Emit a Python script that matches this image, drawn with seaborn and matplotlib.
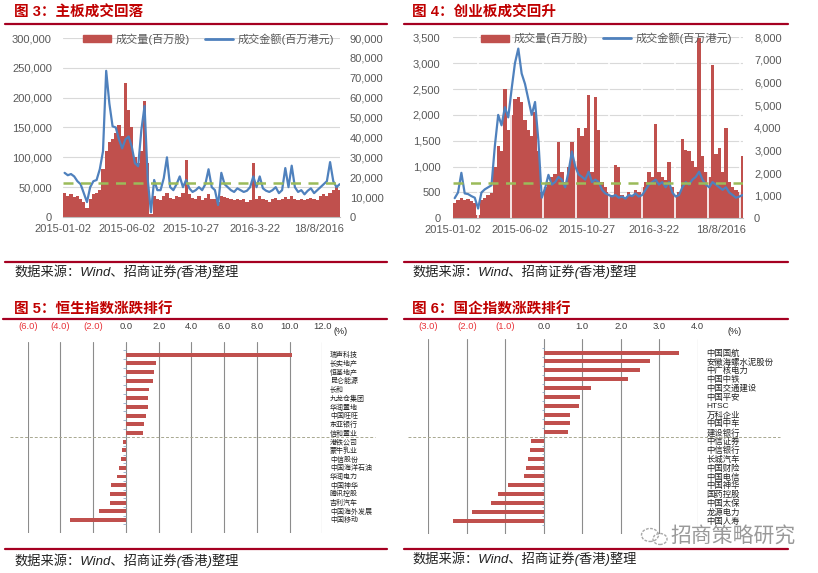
import numpy as np
import matplotlib.pyplot as plt
import seaborn as sns
from matplotlib.lines import Line2D
from matplotlib.patches import Patch, Ellipse
from matplotlib.ticker import FuncFormatter

# --- DATA ---
STEP = 5  # trading days per sample
XMAX = 433
XTICK_LABELS = ["2015-01-02", "2015-06-02", "2015-10-27", "2016-3-22", "18/8/2016"]

# 主板: 成交量(百万股), 成交金额(百万港元)
MAIN_VOL = [40000, 35000, 38000, 33000, 36000, 30000, 25000, 15000, 30000, 38000,
            40000, 45000, 80000, 110000, 125000, 130000, 140000, 155000, 135000, 225000,
            180000, 150000, 100000, 90000, 110000, 195000, 90000, 5000, 35000, 30000,
            28000, 35000, 40000, 32000, 30000, 35000, 33000, 40000, 95000, 38000,
            32000, 30000, 35000, 28000, 32000, 38000, 30000, 30000, 25000, 35000,
            33000, 32000, 30000, 28000, 30000, 28000, 30000, 25000, 28000, 90000,
            30000, 35000, 30000, 28000, 25000, 30000, 32000, 28000, 30000, 33000,
            30000, 35000, 30000, 28000, 30000, 28000, 30000, 32000, 30000, 28000,
            35000, 38000, 35000, 40000, 45000, 50000, 45000]
MAIN_AMT = [22200, 21000, 21600, 20400, 18000, 16500, 12000, 7500, 15000, 18000,
            18600, 24000, 33000, 73500, 57000, 45600, 45000, 39000, 34500, 39000,
            40500, 35400, 27000, 25500, 43800, 55800, 18600, 2400, 18600, 13500,
            13500, 19500, 30000, 15000, 13500, 16500, 20400, 15000, 18600, 14400,
            12600, 13500, 15000, 13500, 16500, 24000, 15000, 13500, 6000, 22200,
            16500, 15000, 13500, 12600, 14400, 13500, 12600, 13200, 15000, 20400,
            15000, 20400, 14400, 13200, 12600, 13500, 15000, 12000, 13500, 24600,
            15000, 25800, 15000, 12600, 13500, 11400, 13200, 14400, 12000, 13500,
            15000, 16500, 18000, 27600, 18000, 15000, 16500]
MAIN_AVG = 17000

# 创业板
GEM_VOL = [300, 350, 400, 350, 380, 330, 300, 60, 350, 400,
           450, 480, 1000, 1400, 1300, 2500, 1700, 2000, 2300, 2350,
           2250, 1900, 1700, 1600, 2050, 1300, 500, 600, 700, 800,
           850, 1480, 900, 700, 1000, 1480, 1100, 1740, 1600, 1750,
           2380, 900, 2350, 1700, 700, 600, 500, 450, 1030, 1000,
           450, 400, 500, 450, 550, 500, 600, 700, 900, 800,
           1830, 900, 800, 750, 1090, 600, 450, 500, 1540, 1320,
           1300, 1100, 1000, 3480, 1200, 900, 800, 2960, 1250, 1350,
           900, 1740, 700, 600, 550, 500, 1200]
GEM_AMT = [890, 1140, 2010, 1100, 1070, 980, 910, 430, 1140, 1280,
           1370, 1460, 3200, 4570, 4110, 4910, 4460, 5710, 6860, 7500,
           6400, 5940, 5260, 4570, 5140, 3430, 910, 1330, 1920, 1490,
           1600, 1830, 1710, 1370, 2060, 2950, 2290, 1940, 1830, 1710,
           2060, 1600, 1710, 1600, 1260, 1100, 1030, 960, 1030, 910,
           960, 870, 1030, 980, 1100, 960, 1030, 1260, 1490, 1600,
           1710, 1490, 1600, 1370, 1600, 1140, 960, 1030, 1370, 1600,
           1490, 1710, 1830, 2060, 1710, 1490, 1370, 1600, 1490, 1370,
           1260, 1370, 1140, 1030, 910, 960, 1030]
GEM_AVG = 1580

HSI_NAMES = ["瑞声科技", "长实地产", "恒基地产", "昆仑能源", "长和", "九龙仓集团", "华润置地",
             "中国旺旺", "东亚银行", "信和置业", "港铁公司", "蒙牛乳业", "中信股份", "中国海洋石油",
             "华润电力", "中国神华", "腾讯控股", "吉利汽车", "中国海外发展", "中国移动"]
HSI_CHG = [10.13, 1.82, 1.73, 1.67, 1.39, 1.38, 1.38, 1.20, 1.08, 1.02,
           -0.16, -0.22, -0.29, -0.41, -0.53, -0.90, -0.98, -0.98, -1.63, -3.43]

HSCEI_NAMES = ["中国国航", "安徽海螺水泥股份", "中广核电力", "中国中铁", "中国交通建设", "中国平安",
               "HTSC", "万科企业", "中国中车", "建设银行", "中信证券", "中信银行", "长城汽车",
               "中国财险", "中国电信", "中国神华", "国药控股", "中国太保", "龙源电力", "中国人寿"]
HSCEI_CHG = [3.52, 2.75, 2.49, 2.19, 1.23, 0.93, 0.92, 0.69, 0.67, 0.64,
             -0.34, -0.37, -0.42, -0.47, -0.52, -0.94, -1.19, -1.36, -1.87, -2.36]

# --- STYLE ---
RED = "#C0504D"
BLUE = "#4F81BD"
GREEN = "#9BBB59"
RULE = "#A50021"
TITLE_RED = "#C00000"
TXT = "#595959"
W, H = 818, 573

sns.set_style("white")
plt.rcParams['font.family'] = ['Liberation Sans', 'Noto Sans CJK SC']

fig = plt.figure(figsize=(W / 100, H / 100), dpi=100)


def fx(px):
    return px / W


def fy(py):
    return 1 - py / H


def axes_px(x0, y0, x1, y1):
    return fig.add_axes([fx(x0), fy(y1), (x1 - x0) / W, (y1 - y0) / H])


def rule(x0, x1, y):
    fig.add_artist(Line2D([fx(x0), fx(x1)], [fy(y), fy(y)], color=RULE, lw=1.6,
                          transform=fig.transFigure))


def header(x, y, text):
    fig.text(fx(x), fy(y), text, color=TITLE_RED, fontsize=10.5, fontweight='bold',
             va='center', ha='left')


def source(x, y):
    fig.text(fx(x), fy(y), "数据来源：Wind、招商证券(香港)整理", fontsize=9.5,
             style='italic', color='#222222', va='center', ha='left')


comma = FuncFormatter(lambda v, p: f"{v:,.0f}")


def volume_chart(box, vol, amt, avg, vmax, vstep, amax, astep, lpad, rpad, leg_x, gaps=False):
    ax = axes_px(*box)
    x = np.arange(len(vol)) * STEP
    ax.bar(x, vol, width=STEP, align='edge', color=RED, linewidth=0)
    if gaps:
        ax.vlines(np.arange(37, XMAX, 49), 0, vmax, color='white', lw=1.2, zorder=1.5)
    ax.set_xlim(0, XMAX)
    ax.set_ylim(0, vmax)
    ax.set_yticks(np.arange(0, vmax + 1, vstep))
    ax.yaxis.set_major_formatter(comma)
    ax.set_xticks(np.arange(len(XTICK_LABELS)) * 100)
    ax.set_xticklabels(XTICK_LABELS)
    ax.grid(axis='y', color='#D9D9D9', lw=0.8)
    ax.set_axisbelow(True)
    for s in ['top', 'left', 'right']:
        ax.spines[s].set_visible(False)
    ax.spines['bottom'].set_color('#BFBFBF')
    ax.tick_params(axis='y', length=0, labelsize=8, labelcolor=TXT, pad=lpad)
    ax.tick_params(axis='x', length=0, labelsize=8, labelcolor=TXT, pad=5)

    ax2 = ax.twinx()
    sns.lineplot(x=x + STEP / 2, y=amt, ax=ax2, color=BLUE, lw=1.6)
    ax2.axhline(avg, color=GREEN, lw=1.8, ls=(0, (4, 3)))
    ax2.set_ylim(0, amax)
    ax2.set_yticks(np.arange(0, amax + 1, astep))
    ax2.yaxis.set_major_formatter(comma)
    ax2.set_ylabel('')
    for s in ax2.spines.values():
        s.set_visible(False)
    ax2.tick_params(axis='y', length=0, labelsize=8, labelcolor=TXT, pad=rpad)

    handles = [Patch(color=RED), Line2D([], [], color=BLUE, lw=2)]
    ax2.legend(handles, ["成交量(百万股)", "成交金额(百万港元)"], loc='center',
               bbox_to_anchor=(leg_x, 0.995), ncol=2, frameon=False, fontsize=8,
               handlelength=2.5, handleheight=0.6, columnspacing=1.4, handletextpad=0.4,
               labelcolor=TXT)
    return ax


def rank_chart(box, names, chg, xmin, xmax, xstep, name_size, name_pad, top_pad, pct_xy,
               sep, tick_len, neg_fmt):
    ax = axes_px(*box)
    sns.barplot(x=chg, y=names, orient='h', color=RED, saturation=1, width=0.45,
                linewidth=0, ax=ax)
    ax.set_xlim(xmin, xmax)
    ticks = np.arange(xmin, xmax + 0.001, xstep)
    ax.set_xticks(ticks)
    ax.set_xticklabels([neg_fmt.format(-t) if t < 0 else f"{t:.1f}" for t in ticks])
    ax.xaxis.tick_top()
    ax.tick_params(axis='x', length=0, labelsize=6.8, pad=top_pad)
    for lbl, t in zip(ax.get_xticklabels(), ticks):
        lbl.set_color('#E8343A' if t < 0 else '#404040')
    ax.yaxis.tick_right()
    ax.tick_params(axis='y', length=0, labelsize=name_size, pad=name_pad, labelcolor='#222222')
    ax.set_xlabel('')
    ax.set_ylabel('')
    for s in ax.spines.values():
        s.set_visible(False)
    ax.grid(axis='x', color='#8C8C8C', lw=0.8)
    ax.grid(axis='y', visible=False)
    ax.set_axisbelow(True)
    n = len(names)
    ax.hlines(np.arange(n + 1) - 0.5, -tick_len, 0, color='#8EA9C8', lw=0.6)
    npos = sum(1 for v in chg if v > 0)
    ax.axhline(npos - 0.5, xmin=sep[0], xmax=sep[1], color='#A8A890', lw=0.7,
               ls=(0, (3, 2)), clip_on=False)
    fig.text(fx(pct_xy[0]), fy(pct_xy[1]), "(%)", fontsize=6.5, color='#222222',
             ha='left', va='center')
    return ax


# --- TOP ROW ---
header(14, 13, "图 3：主板成交回落")
header(412, 13, "图 4：创业板成交回升")
rule(5, 387, 24)
rule(404, 788, 24)

volume_chart((63, 38, 340, 217), MAIN_VOL, MAIN_AMT, MAIN_AVG, 300000, 50000, 90000, 10000,
             lpad=8, rpad=7, leg_x=0.525)
volume_chart((453, 37.3, 743, 218.3), GEM_VOL, GEM_AMT, GEM_AVG, 3500, 500, 8000, 1000,
             lpad=9, rpad=8, leg_x=0.53, gaps=True)

rule(5, 387, 261.7)
rule(404, 788, 261.7)
source(14, 271.7)
source(412, 271.7)

# --- BOTTOM ROW ---
header(14, 310, "图 5：恒生指数涨跌排行")
header(412, 310, "图 6：国企指数涨跌排行")
rule(3, 387, 319.3)
rule(404, 788, 319.3)

rank_chart((27.7, 341.7, 322.3, 533), HSI_NAMES, HSI_CHG, -6, 12, 2, 5, 5.5, 8,
           (334, 332), (-0.06, 1.18), 0.15, "({:.1f})")
rank_chart((428.3, 339.3, 697.7, 534), HSCEI_NAMES, HSCEI_CHG, -3, 4, 1, 6, 6.5, 6,
           (728, 332), (-0.075, 1.305), 0.05, "({:.1f})")

rule(5, 387, 549)
rule(404, 788, 549)
source(14, 560.7)
source(412, 558.3)

# watermark
for cx, cy, w, h in [(650, 535, 17, 13), (660, 539, 14, 11)]:
    fig.add_artist(Ellipse((fx(cx), fy(cy)), w / W, h / H, transform=fig.transFigure,
                           fill=False, ec='#A8A8A8', lw=1.0, ls=(0, (2, 1))))
fig.text(fx(670), fy(536), "招商策略研究", fontsize=15, color='#999999', ha='left', va='center')

fig.savefig("out.png", dpi=100)
